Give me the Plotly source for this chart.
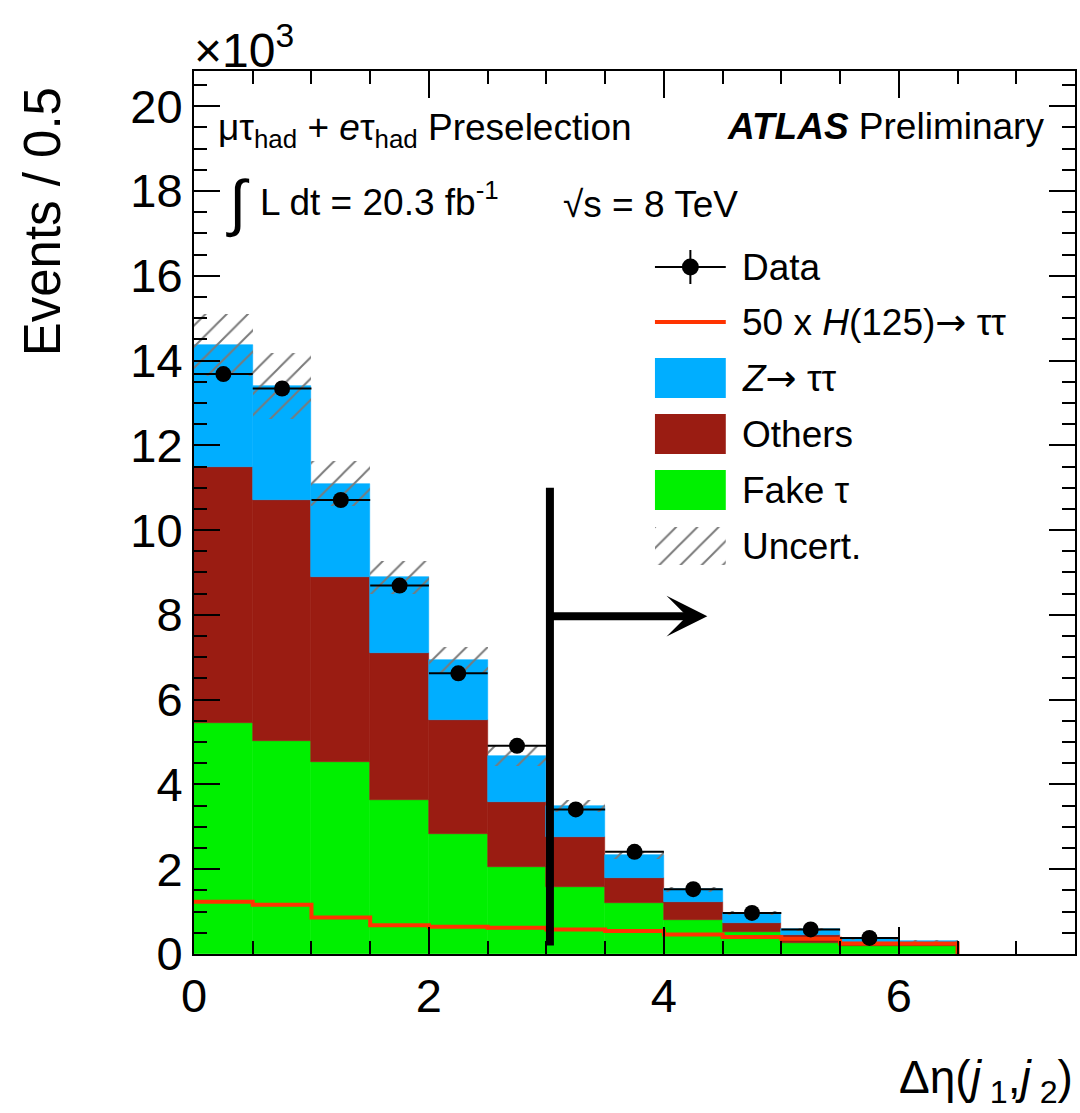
import numpy as np
import plotly.graph_objects as go

# ---------------- data (values in units of 10^3 events) ----------------
bin_edges = [0.0, 0.5, 1.0, 1.5, 2.0, 2.5, 3.0, 3.5, 4.0, 4.5, 5.0, 5.5, 6.0, 6.5]
fake_tau = [5.46, 5.02, 4.52, 3.64, 2.82, 2.05, 1.59, 1.20, 0.80, 0.53, 0.26, 0.18, 0.18]
others = [6.04, 5.69, 4.38, 3.46, 2.71, 1.53, 1.17, 0.60, 0.42, 0.21, 0.19, 0.10, 0.07]
z_tautau = [2.87, 2.69, 2.19, 1.79, 1.40, 1.09, 0.73, 0.53, 0.31, 0.23, 0.13, 0.08, 0.05]
bkg_uncert = [0.73, 0.78, 0.53, 0.39, 0.31, 0.23, 0.15, 0.10, 0.06, 0.05, 0.04, 0.03, 0.03]
higgs_x50 = [1.23, 1.16, 0.86, 0.68, 0.64, 0.62, 0.58, 0.54, 0.46, 0.40, 0.36, 0.25, 0.25]
data_events = [13.68, 13.34, 10.71, 8.69, 6.62, 4.91, 3.41, 2.41, 1.53, 0.97, 0.58, 0.38]

x_ticks = [0, 2, 4, 6]
y_ticks = [0, 2, 4, 6, 8, 10, 12, 14, 16, 18, 20]

cut_value = 3.03
cut_line_range = [0.2, 11.0]
arrow_y = 7.97
arrow_end = 4.37

# ---------------- derived ----------------
edges = np.array(bin_edges)
centers = 0.5 * (edges[:-1] + edges[1:])
widths = edges[1:] - edges[:-1]
fake = np.array(fake_tau)
oth = np.array(others)
zz = np.array(z_tautau)
unc = np.array(bkg_uncert)
total = fake + oth + zz

COL_Z = "#00AEFF"
COL_OTH = "#9A1C12"
COL_FAKE = "#00F000"
COL_H = "#FF3300"
FONT = "Liberation Sans, Arial, Helvetica, sans-serif"
ARROW = '<span style="font-family:DejaVu Sans">→</span>'

PL, PR, PT, PB = 194, 1077, 71, 954
PW, PH = PR - PL, PB - PT


def px(x):
    return (x - PL) / PW


def py(y):
    return (PB - y) / PH


fig = go.Figure()

# stacked backgrounds
for vals, base, col, name in [
    (fake, np.zeros_like(fake), COL_FAKE, "Fake τ"),
    (oth, fake, COL_OTH, "Others"),
    (zz, fake + oth, COL_Z, "Z→ττ"),
]:
    fig.add_trace(go.Bar(
        x=centers, y=vals, base=base, width=widths, name=name,
        marker=dict(color=col, line=dict(color=col, width=0.6)),
        showlegend=False,
    ))

# uncertainty hatch
fig.add_trace(go.Bar(
    x=centers, y=2 * unc, base=total - unc, width=widths, name="Uncert.",
    marker=dict(color="rgba(0,0,0,0)", line=dict(width=0),
                pattern=dict(shape="/", fgcolor="#7a7a7a", bgcolor="rgba(0,0,0,0)",
                             size=15, solidity=0.13, fillmode="replace")),
    showlegend=False,
))

# Higgs x50 step line
hx = list(edges[:-1]) + [edges[-1], edges[-1]]
hy = list(higgs_x50) + [higgs_x50[-1], 0.0]
fig.add_trace(go.Scatter(
    x=hx, y=hy, mode="lines", line=dict(color=COL_H, width=4, shape="hv"),
    showlegend=False,
))

# data points
nd = len(data_events)
fig.add_trace(go.Scatter(
    x=centers[:nd], y=data_events, mode="markers",
    marker=dict(color="black", size=16),
    error_x=dict(type="data", array=widths[:nd] / 2, color="black", thickness=2, width=0),
    showlegend=False,
))

# legend hatch swatch (tiny hidden subplot)
fig.add_trace(go.Bar(
    x=[0.5], y=[1], width=[1], xaxis="x2", yaxis="y2",
    marker=dict(color="rgba(0,0,0,0)", line=dict(width=0),
                pattern=dict(shape="/", fgcolor="#7a7a7a", bgcolor="rgba(0,0,0,0)",
                             size=15, solidity=0.13, fillmode="replace")),
    showlegend=False,
))

shapes = []
# cut line
shapes.append(dict(type="line", xref="x", yref="y", x0=cut_value, x1=cut_value,
                   y0=cut_line_range[0], y1=cut_line_range[1],
                   line=dict(color="black", width=8), layer="above"))

# legend symbols
lx0, lx1 = px(656), px(727)
lxc = px(691.5)
shapes += [
    dict(type="line", xref="paper", yref="paper", x0=lx0, x1=lx1, y0=py(267), y1=py(267),
         line=dict(color="black", width=2)),
    dict(type="line", xref="paper", yref="paper", x0=lxc, x1=lxc, y0=py(250), y1=py(284),
         line=dict(color="black", width=2)),
    dict(type="circle", xref="paper", yref="paper", x0=px(683), x1=px(700), y0=py(258.5), y1=py(275.5),
         fillcolor="black", line=dict(color="black", width=0)),
    dict(type="line", xref="paper", yref="paper", x0=lx0, x1=lx1, y0=py(322), y1=py(322),
         line=dict(color=COL_H, width=4)),
]
for (t, b), col in [((358, 398), COL_Z), ((414, 454), COL_OTH), ((470, 510), COL_FAKE)]:
    shapes.append(dict(type="rect", xref="paper", yref="paper", x0=lx0, x1=lx1,
                       y0=py(b), y1=py(t), fillcolor=col, line=dict(width=0)))

annotations = []


def text(s, x, y, size=37, xanchor="left", yanchor="middle", **kw):
    annotations.append(dict(text=s, x=x, y=y, xref="paper", yref="paper", showarrow=False,
                            xanchor=xanchor, yanchor=yanchor,
                            font=dict(family=FONT, size=size, color="black"), **kw))


# arrow
annotations.append(dict(x=arrow_end, y=arrow_y, ax=cut_value, ay=arrow_y, xref="x", yref="y",
                        axref="x", ayref="y", text="", showarrow=True, arrowhead=3,
                        arrowwidth=8, arrowsize=0.85, arrowcolor="black"))

text("×10<sup>3</sup>", px(192), py(47), size=48)
text("μτ<sub>had</sub> + <i>e</i>τ<sub>had</sub> Preselection", px(216), py(130))
text("<b><i>ATLAS</i></b> Preliminary", px(1048), py(126), xanchor="right")
text("∫", px(224), py(203), size=62)
text("L dt = 20.3 fb<sup>-1</sup>", px(258), py(200))
text("√s = 8 TeV", px(562), py(204))

for s, yc in [("Data", 267), ("50 x <i>H</i>(125)" + ARROW + " ττ", 322), ("<i>Z</i>" + ARROW + " ττ", 378),
              ("Others", 434), ("Fake τ", 490), ("Uncert.", 546)]:
    text(s, px(741), py(yc))

text("Events / 0.5", px(43), py(222), size=51, xanchor="center", textangle=-90)
text("Δη(<i>j</i><sub> 1</sub>,<i>j</i><sub> 2</sub>)", px(1077), py(1080), size=46, xanchor="right")

axis_common = dict(
    showgrid=False, zeroline=False, showline=True, linecolor="black", linewidth=2,
    mirror="allticks", ticks="inside", tickwidth=2, tickcolor="black",
    tickfont=dict(family=FONT, size=47, color="black"),
)

fig.update_layout(
    width=1080, height=1113,
    margin=dict(l=PL, r=1080 - PR, t=PT, b=1113 - PB, pad=0),
    paper_bgcolor="white", plot_bgcolor="white",
    barmode="overlay", bargap=0,
    showlegend=False,
    xaxis=dict(range=[0, 7.5], tickvals=x_ticks, ticklen=27,
               minor=dict(dtick=0.5, tick0=0, ticklen=13, tickwidth=2, tickcolor="black", ticks="inside"),
               **axis_common),
    yaxis=dict(range=[0, 20.83], tickvals=y_ticks, ticklen=26,
               minor=dict(dtick=0.5, tick0=0, ticklen=13, tickwidth=2, tickcolor="black", ticks="inside"),
               **axis_common),
    xaxis2=dict(domain=[px(656), px(727)], range=[0, 1], visible=False, anchor="y2"),
    yaxis2=dict(domain=[py(565), py(527)], range=[0, 1], visible=False, anchor="x2"),
    shapes=shapes,
    annotations=annotations,
)

fig.write_html("out.html")
